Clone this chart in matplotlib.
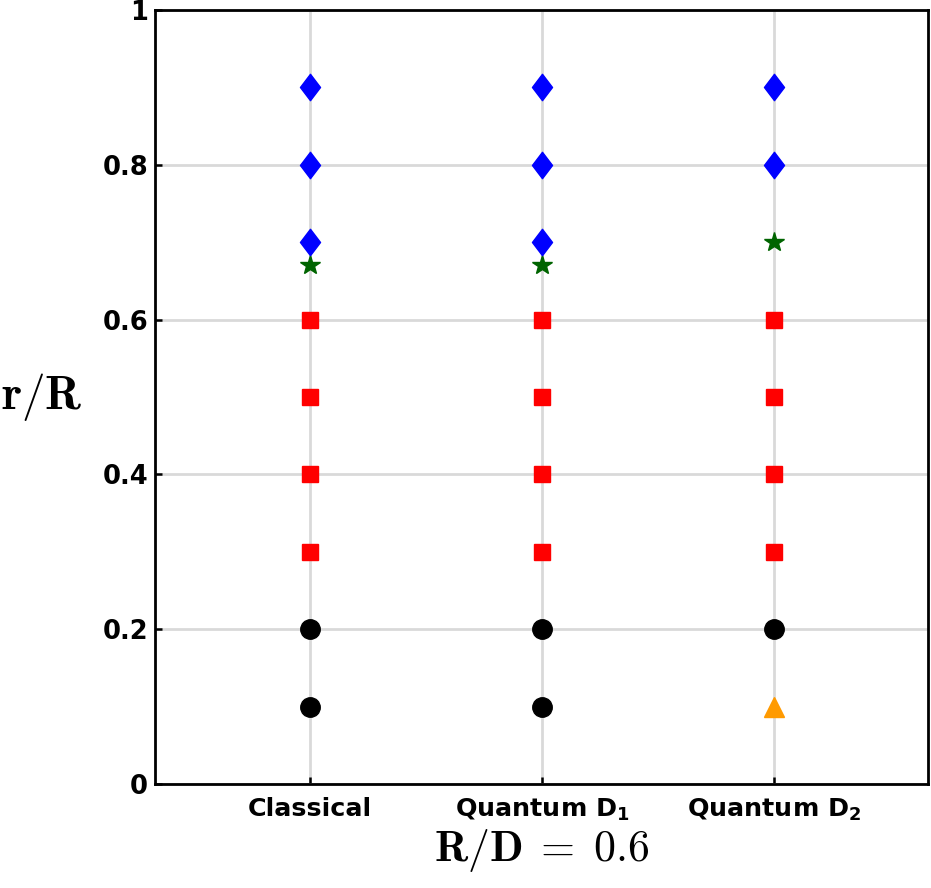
import matplotlib
matplotlib.use("Agg")
import matplotlib.pyplot as plt
from matplotlib.path import Path

categories = ["Classical", "Quantum D$_\\mathbf{1}$", "Quantum D$_\\mathbf{2}$"]
x_pos = [1, 2, 3]

# r/R values for each regime, per category
black_circles = [[0.1, 0.2], [0.1, 0.2], [0.2]]
orange_triangles = [[], [], [0.1]]
red_squares = [[0.3, 0.4, 0.5, 0.6], [0.3, 0.4, 0.5, 0.6], [0.3, 0.4, 0.5, 0.6]]
green_stars = [[0.67], [0.67], [0.70]]
blue_diamonds = [[0.7, 0.8, 0.9], [0.7, 0.8, 0.9], [0.8, 0.9]]

y_ticks = [0, 0.2, 0.4, 0.6, 0.8, 1]
y_ticklabels = ["0", "0.2", "0.4", "0.6", "0.8", "1"]

plt.rcParams['mathtext.fontset'] = 'dejavusans'
plt.rcParams['mathtext.bf'] = 'DejaVu Sans:bold'

fig = plt.figure(figsize=(9.31, 8.88), dpi=100)
ax = fig.add_axes([0.1665, 0.1171, 0.8303, 0.8716])

diamond = Path([(0, 1), (0.76, 0), (0, -1), (-0.76, 0), (0, 1)],
               [Path.MOVETO, Path.LINETO, Path.LINETO, Path.LINETO, Path.CLOSEPOLY])

def draw(groups, **kw):
    for xi, vals in zip(x_pos, groups):
        if vals:
            ax.plot([xi] * len(vals), vals, linestyle='none', zorder=3, **kw)

draw(black_circles, marker='o', color='black', markersize=14)
draw(orange_triangles, marker='^', color='#ff9a00', markersize=15)
draw(red_squares, marker='s', color='#ff0000', markersize=11.5)
draw(green_stars, marker='*', color='#006400', markersize=15)
draw(blue_diamonds, marker=diamond, color='#0000ff', markersize=19)

ax.set_xlim(1 - 155 / 232, 3 + 154 / 232)
ax.set_ylim(0, 1)
ax.set_xticks(x_pos)
ax.set_xticklabels(categories, fontsize=18.3, fontweight='bold')
ax.set_yticks(y_ticks)
ax.set_yticklabels(y_ticklabels, fontsize=18.5, fontweight='bold')
ax.tick_params(direction='in', length=5, width=1.8)
ax.tick_params(axis='y', pad=5)
ax.tick_params(axis='x', pad=9)
ax.grid(True, color='#d9d9d9', linewidth=2)
ax.set_axisbelow(True)
for s in ax.spines.values():
    s.set_linewidth(2)

ax.set_ylabel(r'$\mathbf{r/R}$', fontsize=34, rotation=0, math_fontfamily='cm',
              va='center', ha='center')
ax.yaxis.set_label_coords(-0.146, 0.5)
ax.set_xlabel(r'$\mathbf{R/D}\;=\;0.6$', fontsize=31.5, math_fontfamily='cm', labelpad=3)

fig.savefig("out.png", dpi=100)
